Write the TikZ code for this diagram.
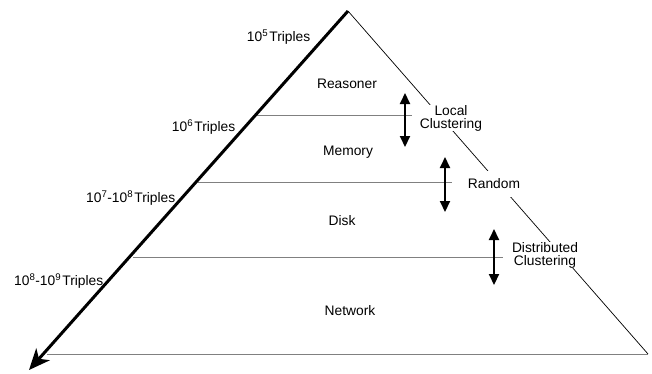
\documentclass[tikz,border=0pt]{standalone}
\usepackage{fontspec}
\setmainfont{Liberation Sans}
\usetikzlibrary{arrows.meta}
\newcommand{\sups}[1]{\textsuperscript{#1}\kern1.2pt}
\begin{document}
\begin{tikzpicture}[x=1pt,y=-1pt,
  lbl/.style={font=\fontsize{13.8}{15}\selectfont, inner sep=0.5pt},
  side/.style={lbl, fill=white, align=center},
  level/.style={draw=black!50, line width=1pt},
  dbl/.style={{Triangle[length=11pt,width=10pt]}-{Triangle[length=11pt,width=10pt]}, line width=2pt}]
\useasboundingbox (0,0) rectangle (652,373);
\coordinate (apex) at (348,11);
\coordinate (br) at (648,354);
\coordinate (tip) at (29,370);
\coordinate (bl) at (47,354);
% level lines
\coordinate (l1a) at (256,115); \coordinate (l1b) at (412,115);
\coordinate (l2a) at (198,182); \coordinate (l2b) at (452,182);
\coordinate (l3a) at (133,257); \coordinate (l3b) at (503,257);
\draw[level] (l1a) -- (l1b);
\draw[level] (l2a) -- (l2b);
\draw[level] (l3a) -- (l3b);
\draw[level] (bl) -- (br);
% right edge
\draw[line width=0.7pt] (apex) -- (br);
% thick axis
\draw[line width=3pt, -{Stealth[length=21pt,width=18pt,inset=6pt]}] (apex) -- (tip);
% side labels
\node[side] (lc) at (451,118) {Local\\[-2pt]Clustering};
\node[side, minimum height=26pt] (rnd) at (494,183.5) {Random};
\node[side] (dc) at (545,255) {Distributed\\[-2pt]Clustering};
% double arrows
\coordinate (a1t) at (405,93); \coordinate (a1b) at (405,147);
\coordinate (a2t) at (445,157); \coordinate (a2b) at (445,212);
\coordinate (a3t) at (494,229); \coordinate (a3b) at (494,285);
\draw[dbl] (a1t) -- (a1b);
\draw[dbl] (a2t) -- (a2b);
\draw[dbl] (a3t) -- (a3b);
% level names
\node[lbl] (reas) at (347,84) {Reasoner};
\node[lbl] (mem) at (348,152) {Memory};
\node[lbl] (disk) at (342,221) {Disk};
\node[lbl] (net) at (350,311) {Network};
% triples
\node[lbl, anchor=east] (t5) at (311,37) {10\sups{5}Triples};
\node[lbl, anchor=east] (t6) at (236,127) {10\sups{6}Triples};
\node[lbl, anchor=east] (t7) at (176,198) {10\textsuperscript{7}-10\sups{8}Triples};
\node[lbl, anchor=east] (t8) at (104,281) {10\textsuperscript{8}-10\sups{9}Triples};
\end{tikzpicture}
\end{document}
